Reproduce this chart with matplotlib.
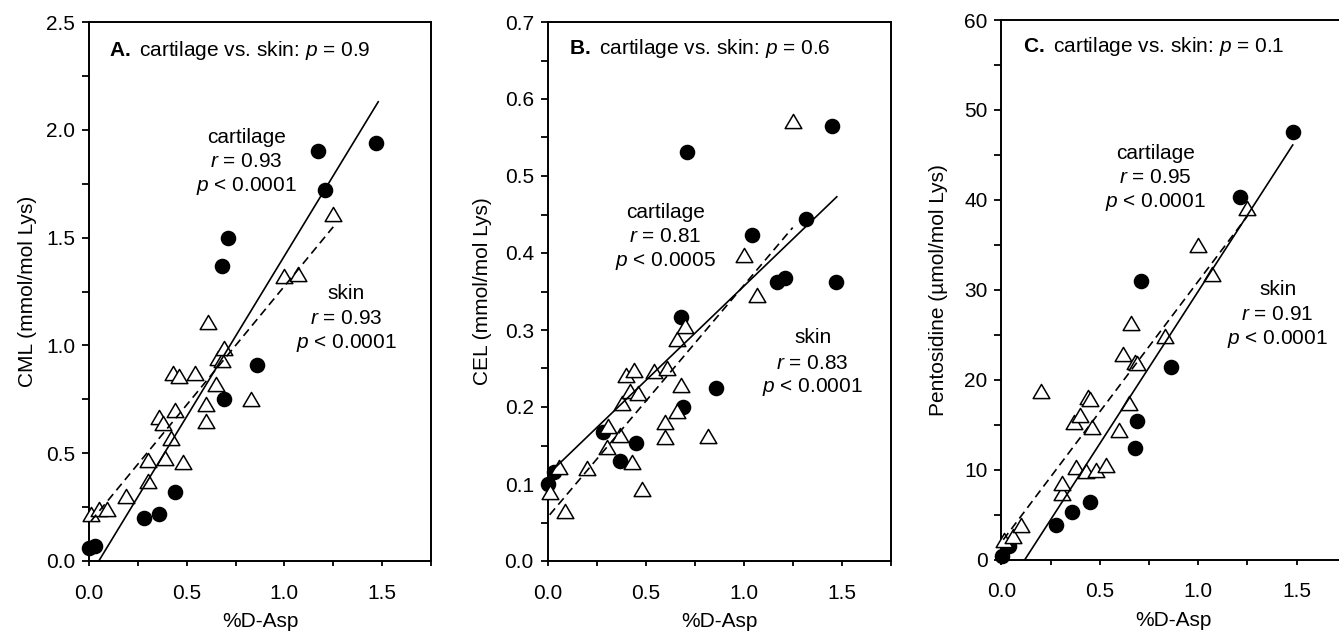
import matplotlib
matplotlib.use('Agg')
import matplotlib.pyplot as plt
import numpy as np
from matplotlib.path import Path
from matplotlib.ticker import MultipleLocator, FormatStrFormatter

plt.rcParams['font.family'] = ['Liberation Sans', 'DejaVu Sans']
plt.rcParams['mathtext.fontset'] = 'custom'
plt.rcParams['mathtext.rm'] = 'Liberation Sans'
plt.rcParams['mathtext.it'] = 'Liberation Sans:italic'
plt.rcParams['mathtext.bf'] = 'Liberation Sans:bold'

# ---- panel A: CML ----
a_cart_x = [0.00, 0.03, 0.28, 0.36, 0.44, 0.68, 0.71, 0.69, 0.86, 1.17, 1.21, 1.47]
a_cart_y = [0.06, 0.07, 0.20, 0.22, 0.32, 1.37, 1.50, 0.75, 0.91, 1.90, 1.72, 1.94]
a_skin_x = [0.01, 0.05, 0.09, 0.19, 0.30, 0.30, 0.39, 0.48, 0.42, 0.36, 0.38, 0.44, 0.43,
            0.46, 0.54, 0.60, 0.60, 0.65, 0.61, 0.66, 0.68, 0.69, 0.83, 1.00, 1.07, 1.25]
a_skin_y = [0.22, 0.24, 0.24, 0.30, 0.37, 0.47, 0.48, 0.46, 0.57, 0.67, 0.64, 0.70, 0.87,
            0.86, 0.87, 0.73, 0.65, 0.82, 1.11, 0.94, 0.93, 0.99, 0.75, 1.32, 1.33, 1.61]
a_fit_cart = ([0.05, 1.48], [0.0, 2.13])
a_fit_skin = ([0.01, 1.25], [0.185, 1.55])

# ---- panel B: CEL ----
b_cart_x = [0.00, 0.03, 0.28, 0.37, 0.45, 0.68, 0.69, 0.71, 0.86, 1.04, 1.17, 1.21, 1.32, 1.45, 1.47]
b_cart_y = [0.100, 0.116, 0.167, 0.130, 0.153, 0.317, 0.200, 0.531, 0.225, 0.424, 0.362,
            0.368, 0.444, 0.565, 0.362]
b_skin_x = [0.01, 0.06, 0.09, 0.20, 0.31, 0.30, 0.37, 0.38, 0.40, 0.42, 0.44, 0.46, 0.43,
            0.48, 0.54, 0.61, 0.60, 0.60, 0.66, 0.68, 0.66, 0.70, 0.82, 1.00, 1.07, 1.25]
b_skin_y = [0.090, 0.122, 0.065, 0.121, 0.175, 0.148, 0.163, 0.205, 0.241, 0.221, 0.248,
            0.218, 0.129, 0.093, 0.247, 0.251, 0.180, 0.161, 0.195, 0.229, 0.288, 0.305,
            0.162, 0.397, 0.345, 0.571]
b_fit_cart = ([0.0, 1.475], [0.112, 0.473])
b_fit_skin = ([0.01, 1.25], [0.060, 0.433])

# ---- panel C: pentosidine ----
c_cart_x = [0.005, 0.04, 0.28, 0.36, 0.45, 0.68, 0.69, 0.71, 0.86, 1.21, 1.48]
c_cart_y = [0.4, 1.5, 3.8, 5.3, 6.4, 12.4, 15.4, 31.0, 21.4, 40.3, 47.5]
c_skin_x = [0.015, 0.06, 0.10, 0.20, 0.31, 0.31, 0.38, 0.43, 0.48, 0.53, 0.37, 0.40, 0.44,
            0.45, 0.46, 0.60, 0.65, 0.62, 0.66, 0.68, 0.69, 0.83, 1.00, 1.07, 1.25]
c_skin_y = [2.2, 2.6, 3.8, 18.7, 7.4, 8.5, 10.3, 9.8, 9.9, 10.5, 15.3, 16.1, 18.1,
            17.8, 14.7, 14.4, 17.4, 22.8, 26.3, 22.0, 21.9, 24.9, 35.0, 31.8, 39.1]
c_fit_cart = ([0.12, 1.48], [0.0, 46.1])
c_fit_skin = ([0.01, 1.25], [2.2, 38.2])

# ---- labels ----
panel_letters = ['A.', 'B.', 'C.']
panel_pvals = ['0.9', '0.6', '0.1']
y_labels = ['CML (mmol/mol Lys)', 'CEL (mmol/mol Lys)', 'Pentosidine (µmol/mol Lys)']
cart_stats = [('0.93', '< 0.0001'), ('0.81', '< 0.0005'), ('0.95', '< 0.0001')]
skin_stats = [('0.93', '< 0.0001'), ('0.83', '< 0.0001'), ('0.91', '< 0.0001')]
y_max = [2.5, 0.7, 60]
y_major = [0.5, 0.1, 10]
y_fmt = ['%.1f', '%.1f', '%d']

fig = plt.figure(figsize=(13.39, 6.31), dpi=100)
W, H = 1339.0, 631.0

# axes boxes in pixels: left, right, top, bottom
boxes = [(89, 431, 22, 561), (547.7, 890.7, 22, 561), (1001.3, 1345.9, 20, 559.5)]
ylabel_x = [-0.152, -0.162, -0.155]
title_pos = [(0.103, 2.37), (0.11, 0.666), (0.11, 57.0)]
cart_pos = [(0.806, [1.966, 1.853, 1.740]), (0.60, [0.453, 0.422, 0.390]),
            (0.783, [45.2, 42.5, 39.8])]
skin_pos = [(1.316, [1.241, 1.127, 1.013]), (1.352, [0.290, 0.257, 0.226]),
            (1.403, [30.0, 27.3, 24.5])]

cart_x = [a_cart_x, b_cart_x, c_cart_x]
cart_y = [a_cart_y, b_cart_y, c_cart_y]
skin_x = [a_skin_x, b_skin_x, c_skin_x]
skin_y = [a_skin_y, b_skin_y, c_skin_y]
fit_cart = [a_fit_cart, b_fit_cart, c_fit_cart]
fit_skin = [a_fit_skin, b_fit_skin, c_fit_skin]

tri = Path([(-1, -0.85), (1, -0.85), (0, 0.85), (-1, -0.85)],
           [Path.MOVETO, Path.LINETO, Path.LINETO, Path.CLOSEPOLY])

fs = 15
for i in range(3):
    l, r, t, b = boxes[i]
    ax = fig.add_axes([l / W, (H - b) / H, (r - l) / W, (b - t) / H])

    ax.plot(cart_x[i], cart_y[i], 'o', ms=10.2, color='black', clip_on=False, zorder=3)
    ax.plot(skin_x[i], skin_y[i], linestyle='none', marker=tri, ms=12, mfc='white',
            mec='black', mew=1.1, clip_on=False, zorder=4)
    ax.plot(*fit_cart[i], '-', color='black', lw=1.2, zorder=5)
    ax.plot(*fit_skin[i], color='black', lw=1.2, linestyle=(0, (5, 3)), zorder=5)

    ax.set_xlim(0, 1.75)
    ax.set_ylim(0, y_max[i])
    ax.xaxis.set_major_locator(MultipleLocator(0.5))
    ax.xaxis.set_minor_locator(MultipleLocator(0.25))
    ax.xaxis.set_major_formatter(FormatStrFormatter('%.1f'))
    ax.yaxis.set_major_locator(MultipleLocator(y_major[i]))
    ax.yaxis.set_minor_locator(MultipleLocator(y_major[i] / 2))
    ax.yaxis.set_major_formatter(FormatStrFormatter(y_fmt[i]))

    for s in ax.spines.values():
        s.set_linewidth(1.4)
    ax.tick_params(axis='x', which='both', direction='out', length=3.5, width=1.3,
                   pad=13, labelsize=fs, top=False)
    ax.tick_params(axis='y', which='both', direction='out', length=5, width=1.3,
                   pad=5, labelsize=fs, right=False)

    ax.set_xlabel('%D-Asp', fontsize=fs)
    ax.xaxis.set_label_coords(0.5, -0.095)
    ax.set_ylabel(y_labels[i], fontsize=fs)
    ax.yaxis.set_label_coords(ylabel_x[i], 0.5)

    tx, ty = title_pos[i]
    ax.text(tx, ty, r'$\mathbf{%s}$ cartilage vs. skin: $p$ = %s' % (panel_letters[i], panel_pvals[i]),
            fontsize=fs, ha='left', va='center')

    cx, cys = cart_pos[i]
    lines = ['cartilage', r'$r$ = ' + cart_stats[i][0], r'$p$ ' + cart_stats[i][1]]
    for txt, yy in zip(lines, cys):
        ax.text(cx, yy, txt, fontsize=fs, ha='center', va='center')

    sx, sys_ = skin_pos[i]
    lines = ['skin', r'$r$ = ' + skin_stats[i][0], r'$p$ ' + skin_stats[i][1]]
    for txt, yy in zip(lines, sys_):
        ax.text(sx, yy, txt, fontsize=fs, ha='center', va='center')

fig.savefig('out.png', dpi=100)
